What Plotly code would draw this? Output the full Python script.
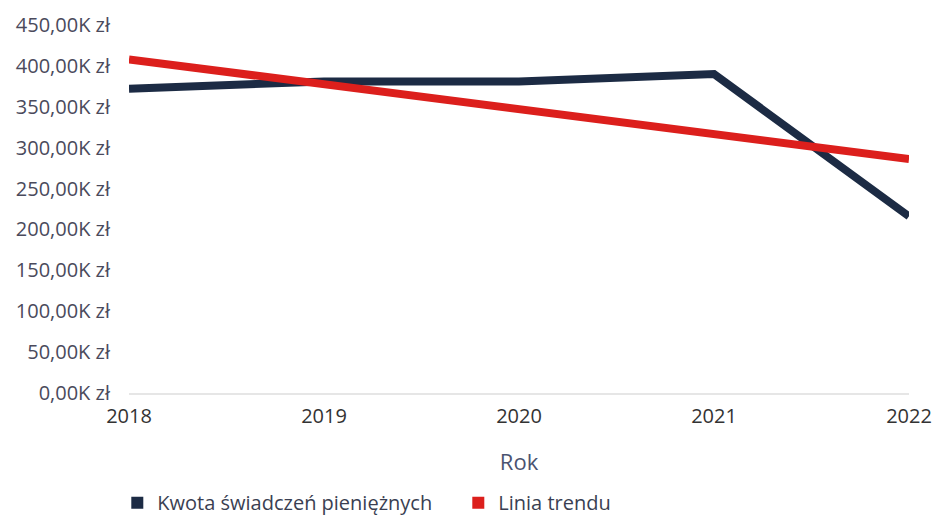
import plotly.graph_objects as go

years = [2018, 2019, 2020, 2021, 2022]
kwota = [372000, 381000, 381000, 390000, 216000]
trend_years = [2018, 2022]
trend = [408000, 286000]
y_tickvals = [0, 50000, 100000, 150000, 200000, 250000, 300000, 350000, 400000, 450000]
y_ticktext = ["0,00K zł", "50,00K zł", "100,00K zł", "150,00K zł", "200,00K zł",
              "250,00K zł", "300,00K zł", "350,00K zł", "400,00K zł", "450,00K zł"]

navy = "#1c2b44"
red = "#dc1f1c"
font = "Open Sans"

fig = go.Figure()
fig.add_trace(go.Scatter(x=years, y=kwota, mode="lines", line=dict(color=navy, width=8),
                         showlegend=False, hoverinfo="skip"))
fig.add_trace(go.Scatter(x=trend_years, y=trend, mode="lines", line=dict(color=red, width=8),
                         showlegend=False, hoverinfo="skip"))
fig.add_trace(go.Scatter(x=[None], y=[None], mode="markers", name="Kwota świadczeń pieniężnych",
                         marker=dict(symbol="square", color=navy, size=12)))
fig.add_trace(go.Scatter(x=[None], y=[None], mode="markers", name="Linia trendu",
                         marker=dict(symbol="square", color=red, size=12)))

fig.update_layout(
    width=934, height=517,
    margin=dict(l=129, r=25, t=25, b=124, autoexpand=False),
    paper_bgcolor="white", plot_bgcolor="white",
    font=dict(family=font, size=20, color="#333333"),
    showlegend=True,
    legend=dict(orientation="h", x=-0.015, xanchor="left", y=-0.245, yanchor="top",
                font=dict(size=20, color="#3a3f52"), tracegroupgap=0,
                entrywidth=296, entrywidthmode="pixels"),
    xaxis=dict(range=[2018, 2022], tickvals=years, ticktext=[str(y) for y in years],
               showgrid=False, zeroline=False, showline=True, linecolor="#e6e6e6", linewidth=2,
               tickfont=dict(size=20, color="#333333"), ticks="", automargin=False,
               ticklabelstandoff=4,
               title=dict(text="Rok", font=dict(size=22, color="#4a5270"), standoff=27)),
    yaxis=dict(range=[0, 450000], tickvals=y_tickvals, ticktext=y_ticktext,
               showgrid=False, zeroline=False, showline=False, automargin=False,
               tickfont=dict(size=20, color="#4a4a5c"), ticklabelstandoff=18),
)

fig.write_html("out.html", config={"displayModeBar": False},
               post_script="document.body.style.margin='0';document.body.style.padding='0';")
